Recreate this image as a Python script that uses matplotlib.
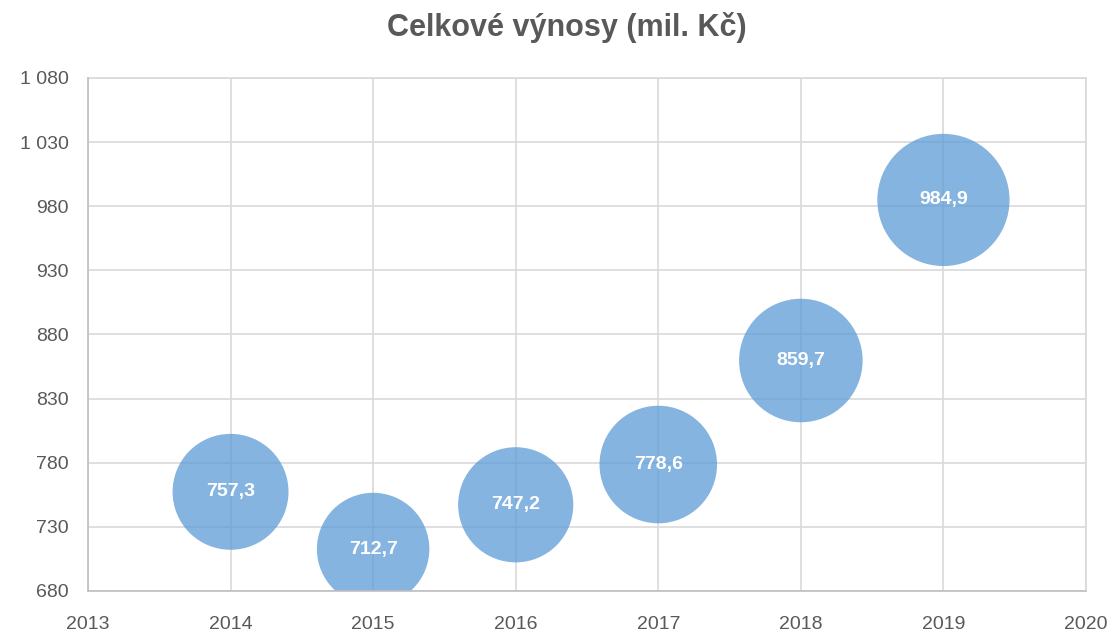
import matplotlib

matplotlib.use("Agg")
import matplotlib.pyplot as plt

# ====== Data ======
years = [2014, 2015, 2016, 2017, 2018, 2019]
revenue = [757.3, 712.7, 747.2, 778.6, 859.7, 984.9]
labels = ["757,3", "712,7", "747,2", "778,6", "859,7", "984,9"]
x_ticks = [2013, 2014, 2015, 2016, 2017, 2018, 2019, 2020]
y_ticks = [680, 730, 780, 830, 880, 930, 980, 1030, 1080]
y_tick_labels = ["680", "730", "780", "830", "880", "930", "980", "1 030", "1 080"]
# ==================

TEXT = "#595959"
GRID = "#D9D9D9"

plt.rcParams["font.family"] = ["Liberation Sans", "DejaVu Sans"]

fig = plt.figure(figsize=(11.15, 6.33), dpi=100)
ax = fig.add_axes([0.0789, 0.0664, 0.8951, 0.8104])

# bubble area proportional to value (Excel style)
sizes = [v * 9.2 for v in revenue]
bubbles = ax.scatter(years, revenue, s=sizes, color="#5B9BD5", alpha=0.75,
                     edgecolors="none", zorder=3, clip_on=True)
bubbles.set_clip_path(ax.patch)

for x, y, t in zip(years, revenue, labels):
    ax.text(x, y, t, ha="center", va="center", color="white",
            fontsize=14, fontweight="bold", zorder=4)

ax.set_xlim(2013, 2020)
ax.set_ylim(680, 1080)
ax.set_xticks(x_ticks)
ax.set_yticks(y_ticks)
ax.set_yticklabels(y_tick_labels)

ax.grid(True, color=GRID, linewidth=1.2, zorder=0)
ax.set_axisbelow(True)
for side in ["top", "right"]:
    ax.spines[side].set_color(GRID)
    ax.spines[side].set_linewidth(1.2)
for side in ["left", "bottom"]:
    ax.spines[side].set_color("#BFBFBF")
    ax.spines[side].set_linewidth(1.2)
    ax.spines[side].set_zorder(5)

ax.tick_params(axis="both", length=0, labelsize=14, colors=TEXT)
ax.tick_params(axis="x", pad=18)
ax.tick_params(axis="y", pad=14)

fig.text(0.508, 0.956, "Celkové výnosy (mil. Kč)", ha="center", va="center",
         fontsize=22, fontweight="bold", color=TEXT)

fig.savefig("out.png", dpi=100)
